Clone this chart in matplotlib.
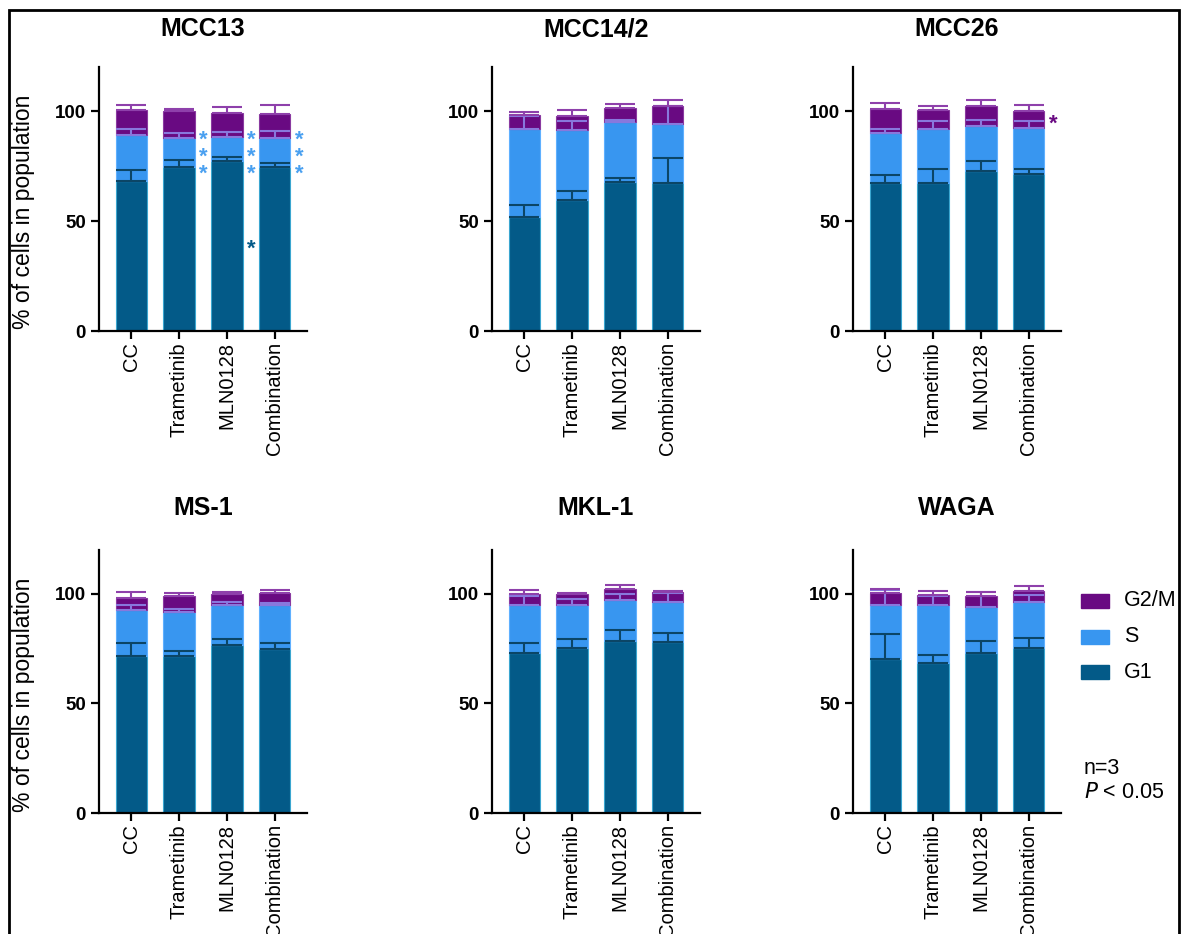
import numpy as np
import matplotlib; matplotlib.use("Agg")
import matplotlib.pyplot as plt
from matplotlib.patches import Rectangle

plt.rcParams['font.family'] = ['Liberation Sans', 'DejaVu Sans']

treatments = ['CC', 'Trametinib', 'MLN0128', 'Combination']
lines = ['MCC13', 'MCC14/2', 'MCC26', 'MS-1', 'MKL-1', 'WAGA']

# mean % of cells per phase (G1, S, G2/M) and upward SD
g1 = {'MCC13': [68.0, 74.4, 77.2, 74.6], 'MCC14/2': [51.8, 59.5, 67.9, 67.4],
      'MCC26': [67.3, 67.3, 72.9, 71.4], 'MS-1': [71.7, 71.7, 76.6, 74.9],
      'MKL-1': [73.1, 75.2, 78.7, 77.9], 'WAGA': [70.2, 68.6, 73.2, 75.5]}
g1_sd = {'MCC13': [5.2, 3.2, 2.1, 1.7], 'MCC14/2': [5.4, 4.1, 1.5, 11.4],
         'MCC26': [3.6, 6.5, 4.6, 2.1], 'MS-1': [5.8, 2.3, 3.0, 2.6],
         'MKL-1': [4.4, 4.4, 4.9, 4.1], 'WAGA': [11.5, 3.5, 5.3, 4.3]}
s = {'MCC13': [21.2, 13.3, 11.1, 13.2], 'MCC14/2': [40.1, 31.7, 27.1, 26.8],
     'MCC26': [22.7, 24.5, 20.4, 21.0], 'MS-1': [20.8, 19.9, 18.1, 19.8],
     'MKL-1': [22.0, 19.9, 18.7, 18.6], 'WAGA': [24.9, 26.2, 20.9, 21.0]}
s_sd = {'MCC13': [2.7, 2.3, 2.1, 3.1], 'MCC14/2': [5.8, 4.1, 0.7, 7.9],
        'MCC26': [1.9, 3.6, 2.7, 2.9], 'MS-1': [2.2, 1.6, 1.8, 0.9],
        'MKL-1': [4.0, 2.5, 2.6, 4.0], 'WAGA': [6.6, 4.3, 6.7, 2.9]}
g2m = {'MCC13': [11.4, 12.3, 10.9, 11.0], 'MCC14/2': [6.4, 6.4, 6.4, 8.2],
       'MCC26': [10.8, 8.5, 9.0, 7.8], 'MS-1': [5.7, 7.6, 5.1, 5.5],
       'MKL-1': [4.9, 4.6, 5.0, 4.3], 'WAGA': [5.2, 4.7, 5.1, 4.6]}
g2m_sd = {'MCC13': [2.1, 0.8, 2.6, 3.8], 'MCC14/2': [1.4, 2.9, 1.8, 2.8],
          'MCC26': [2.9, 1.8, 2.9, 2.4], 'MS-1': [2.6, 1.3, 1.0, 1.5],
          'MKL-1': [1.7, 0.5, 1.7, 0.3], 'WAGA': [2.0, 2.0, 1.7, 2.6]}

# significance marks: (line, bar index, phase, y centre, label)
stars = [('MCC13', 1, 'S', 79.0, '*\n*\n*'), ('MCC13', 2, 'S', 79.0, '*\n*\n*'),
         ('MCC13', 3, 'S', 79.0, '*\n*\n*'), ('MCC13', 2, 'G1', 37.0, '*'),
         ('MCC26', 3, 'G2/M', 94.0, '*')]

C = {'G1': '#035a88', 'S': '#3896f0', 'G2/M': '#690a82'}
EDGE = {'G1': '#3aa6d0', 'S': '#5fb0ff', 'G2/M': '#8a3aa0'}
ERR = {'G1': '#0b4566', 'S': '#8878dd', 'G2/M': '#8e40ab'}
STAR = {'G1': '#035a88', 'S': '#4aa0f0', 'G2/M': '#690a82'}

W, H = 1181, 934
fig = plt.figure(figsize=(W / 100, H / 100), dpi=100)
lefts = [99, 492, 853]
rows = [(331, 264, 22), (813, 263, 25)]

x = np.arange(4)
for k, name in enumerate(lines):
    r, c = divmod(k, 3)
    ybot, h, pad = rows[r]
    ax = fig.add_axes([lefts[c] / W, (H - ybot) / H, 208 / W, h / H])
    b_s = np.array(g1[name])
    b_g = b_s + np.array(s[name])
    ax.bar(x, g1[name], 0.65, color=C['G1'], edgecolor=EDGE['G1'], lw=0.8, zorder=2)
    ax.bar(x, s[name], 0.65, bottom=b_s, color=C['S'], edgecolor=EDGE['S'], lw=0.8, zorder=2)
    ax.bar(x, g2m[name], 0.65, bottom=b_g, color=C['G2/M'], edgecolor=EDGE['G2/M'], lw=0.8, zorder=2)
    for tops, sd, ph in [(b_s, g1_sd[name], 'G1'), (b_g, s_sd[name], 'S'),
                         (b_g + np.array(g2m[name]), g2m_sd[name], 'G2/M')]:
        ax.errorbar(x, tops, yerr=[np.zeros(4), sd], fmt='none', ecolor=ERR[ph],
                    elinewidth=1.5, capsize=11, capthick=1.5, zorder=3)
    for ln, i, ph, yv, lab in stars:
        if ln == name:
            ax.text(i + 0.5, yv, lab, color=STAR[ph], fontsize=16, ha='center',
                    va='center', fontweight='bold', linespacing=0.72)
    ax.set_xlim(-0.67, 3.67)
    ax.set_ylim(0, 120)
    ax.set_yticks([0, 50, 100])
    ax.set_xticks(x)
    ax.set_xticklabels(treatments, rotation=90, fontsize=14.5)
    for t in ax.get_yticklabels():
        t.set_fontweight('bold'); t.set_fontsize(13.5)
    for sp in ['top', 'right']:
        ax.spines[sp].set_visible(False)
    for sp in ['left', 'bottom']:
        ax.spines[sp].set_linewidth(1.6)
    ax.tick_params(width=1.6, length=6)
    ax.tick_params(axis='x', pad=2)
    ax.set_title(name, fontsize=18, fontweight='bold', pad=pad)
    if c == 0:
        ax.set_ylabel('% of cells in population', fontsize=16.5)
        ax.yaxis.set_label_coords(-0.31, 0.45)

# phase key and footnote
for j, ph in enumerate(['G2/M', 'S', 'G1']):
    yc = [601, 637, 672][j]
    fig.add_artist(Rectangle((1081 / W, (H - yc - 7) / H), 28 / W, 14 / H,
                             transform=fig.transFigure, color=C[ph]))
    fig.text(1124 / W, (H - yc) / H, ph, fontsize=15.5, va='center', ha='left')
fig.text(1084 / W, (H - 768) / H, 'n=3', fontsize=15.5, va='center', ha='left')
fig.text(1084 / W, (H - 792) / H, '$\\it{P}$ < 0.05', fontsize=15.5, va='center', ha='left')

fig.add_artist(Rectangle((9 / W, -0.05), 1170 / W, 1.05 - 10 / H,
                         transform=fig.transFigure, fill=False, lw=2, color='black'))
fig.savefig('out.png', dpi=100)
